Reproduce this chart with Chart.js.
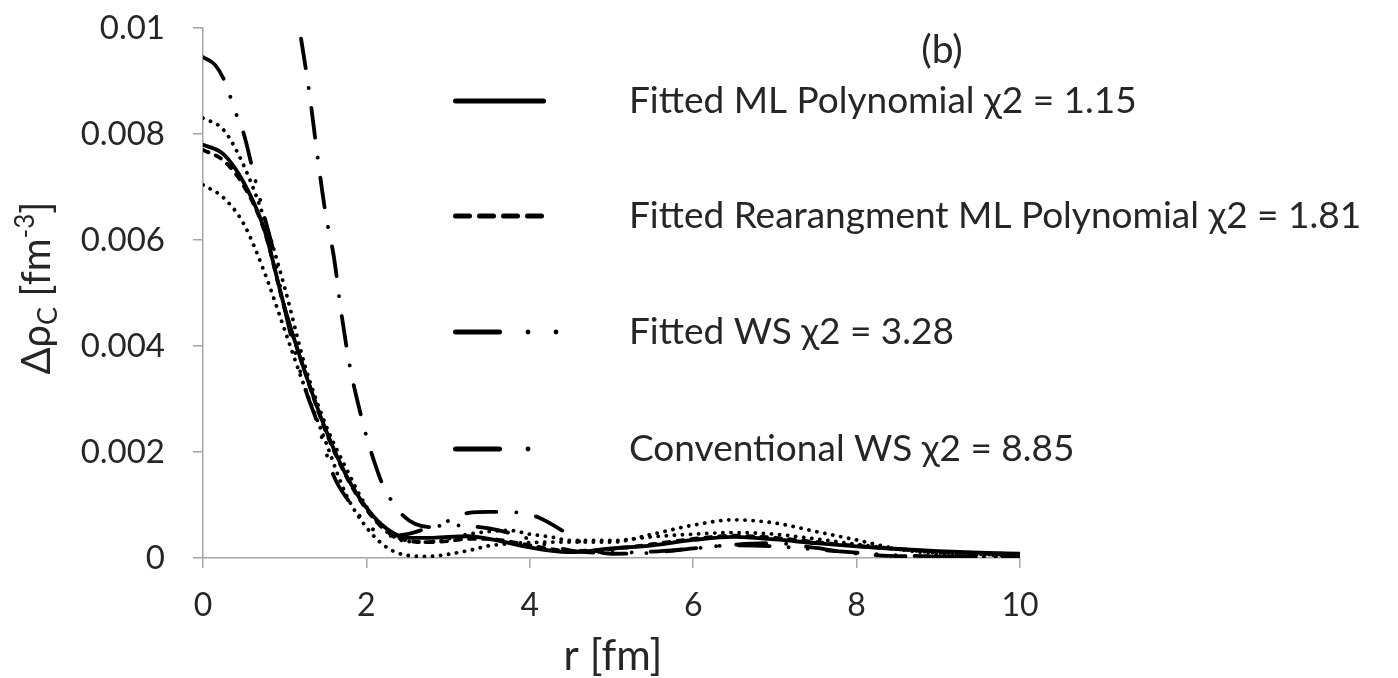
<!DOCTYPE html>
<html>
<head>
<meta charset="utf-8">
<title>Δρ_C vs r</title>
<script src="https://cdn.jsdelivr.net/npm/chart.js@4.4.1/dist/chart.umd.min.js"></script>
<style>
  html, body { margin: 0; padding: 0; background: #fff; }
  #wrap { width: 1398px; height: 678px; }
</style>
</head>
<body>
<div id="wrap"><canvas id="densityChart" width="1398" height="678"></canvas></div>
<script>
// ==== DATA ====
// common radial grid for the polynomial fits and their dotted bounds
const rGrid = [0, 0.25, 0.5, 0.75, 1, 1.25, 1.5, 1.75, 2, 2.25, 2.5, 2.75, 3, 3.25, 3.5, 3.75,
  4, 4.25, 4.5, 5, 5.5, 6, 6.5, 7, 7.5, 8, 8.5, 9, 9.5, 10];

const mlPoly = [0.0078, 0.00762, 0.00708, 0.0062, 0.00472, 0.0035, 0.00243, 0.00157, 0.00095, 0.00055,
  0.00038, 0.00038, 0.0004, 0.00041, 0.00036, 0.00028, 0.0002, 0.00014, 0.00011, 0.00018,
  0.00024, 0.00034, 0.0004, 0.00035, 0.00028, 0.00022, 0.00017, 0.00013, 0.0001, 0.00008];

const mlRearr = [0.0077, 0.0075, 0.00702, 0.00618, 0.0047, 0.0035, 0.0024, 0.00155, 0.00092, 0.0005,
  0.00033, 0.0003, 0.00032, 0.00036, 0.00036, 0.00031, 0.00024, 0.00017, 0.00013, 0.00017,
  0.00026, 0.00036, 0.00042, 0.00038, 0.0003, 0.00023, 0.00017, 0.00012, 0.00009, 0.00007];

const boundUpper = [0.0083, 0.00808, 0.0074, 0.0064, 0.0051, 0.00362, 0.00252, 0.0017, 0.00097, 0.0005,
  0.00031, 0.0003, 0.00036, 0.00045, 0.0005, 0.00052, 0.00045, 0.0004, 0.00033, 0.00033,
  0.0004, 0.00045, 0.00048, 0.00045, 0.00036, 0.00026, 0.00017, 0.0001, 0.00007, 0.00005];

const boundLower = [0.00704, 0.0068, 0.0063, 0.0054, 0.0043, 0.0032, 0.0022, 0.0012, 0.00058, 0.0002,
  0.00005, 0.00003, 0.00007, 0.00014, 0.00023, 0.00027, 0.00029, 0.0003, 0.0003, 0.0003,
  0.00045, 0.00062, 0.00072, 0.00066, 0.0005, 0.00034, 0.00017, 0.00008, 0.00006, 0.00005];

// Woods-Saxon curves
const wsFitR = [0, 0.15, 0.27, 0.4, 0.5, 0.6, 0.75, 0.86, 1, 1.25, 1.4, 1.6, 1.8, 1.96, 2.1, 2.3,
  2.5, 2.8, 3, 3.25, 3.5, 3.85, 4.2, 4.6, 5, 5.5, 6, 6.5, 7, 7.5, 8, 8.5, 9, 10];
const wsFit = [0.00945, 0.0093, 0.00898, 0.0084, 0.008, 0.00738, 0.00645, 0.0058, 0.0047, 0.0032, 0.00255,
  0.00155, 0.00104, 0.00072, 0.00052, 0.00042, 0.00045, 0.00058, 0.00062, 0.0006, 0.00056, 0.00043,
  0.00025, 0.00012, 0.0001, 0.00012, 0.00018, 0.00024, 0.00022, 0.00016, 0.0001, 0.00005, 0.00003, 0.00001];

const wsConvR = [1.2, 1.3, 1.4, 1.5, 1.6, 1.7, 1.8, 1.9, 2, 2.1, 2.2, 2.3, 2.45, 2.6, 2.8, 3, 3.25, 3.5,
  3.85, 4.1, 4.45, 4.8, 5, 5.5, 6, 6.5, 7, 7.5, 7.9, 8.4, 9, 10];
const wsConv = [0.0098, 0.0088, 0.0076, 0.0065, 0.0057, 0.00455, 0.0036, 0.0029, 0.0023, 0.0018, 0.00138,
  0.0011, 0.0008, 0.00064, 0.00058, 0.0007, 0.00085, 0.00087, 0.00086, 0.00077, 0.00047, 0.00014,
  0.00008, 0.0001, 0.00018, 0.00025, 0.00028, 0.00019, 0.0001, 0.00004, 0.00003, 0.00002];

const xTicks = [0, 2, 4, 6, 8, 10];
const yTicks = [0, 0.002, 0.004, 0.006, 0.008, 0.01];

const legendLabels = [
  "Fitted ML Polynomial χ2 = 1.15",
  "Fitted Rearangment ML Polynomial χ2 = 1.81",
  "Fitted WS χ2 = 3.28",
  "Conventional WS χ2 = 8.85"
];

const FONT = "Lato, 'Open Sans', sans-serif";
const TEXT = "#262626";
const AXIS = "#a6a6a6";

function toPoints(xs, ys) {
  return xs.map((x, i) => ({ x, y: ys[i] }));
}

function lineSet(label, xs, ys, dash) {
  return {
    label,
    data: toPoints(xs, ys),
    borderColor: "#000",
    borderWidth: 3.8,
    borderDash: dash,
    borderCapStyle: "round",
    pointRadius: 0,
    fill: false,
    cubicInterpolationMode: "monotone"
  };
}

// ==== TEXT + LEGEND ====
function drawRich(ctx, parts, x, y) {
  // parts: [text, size, baseline shift]
  let total = 0;
  parts.forEach(p => { ctx.font = p[1] + "px " + FONT; total += ctx.measureText(p[0]).width; });
  let cx = x - total / 2;
  parts.forEach(p => {
    ctx.font = p[1] + "px " + FONT;
    ctx.fillText(p[0], cx, y + p[2]);
    cx += ctx.measureText(p[0]).width;
  });
}

const annotations = {
  id: "annotations",
  afterDraw(chart) {
    const ctx = chart.ctx;
    ctx.save();
    ctx.fillStyle = TEXT;
    ctx.textBaseline = "alphabetic";

    // y axis title, rotated
    ctx.save();
    ctx.translate(36, 288);
    ctx.rotate(-Math.PI / 2);
    drawRich(ctx, [["Δρ", 40, 0], ["C", 27, 7], [" [fm", 40, 0], ["-3", 26, -16], ["]", 40, 0]], 0, 14);
    ctx.restore();

    // x axis title
    ctx.textAlign = "center";
    ctx.font = "42px " + FONT;
    ctx.fillText("r [fm]", 613, 670);

    // panel tag
    ctx.font = "39px " + FONT;
    ctx.fillText("(b)", 942, 63);

    // legend
    const rows = [101, 216, 332, 449];
    ctx.textAlign = "left";
    ctx.textBaseline = "middle";
    ctx.font = "37px " + FONT;
    legendLabels.forEach((lab, i) => {
      const y = rows[i];
      ctx.strokeStyle = "#000";
      ctx.lineWidth = 5;
      ctx.lineCap = "round";
      ctx.beginPath();
      if (i === 0) {
        ctx.setLineDash([]);
        ctx.moveTo(455.5, y); ctx.lineTo(543.5, y);
      } else if (i === 1) {
        ctx.setLineDash([14, 10]);
        ctx.moveTo(455.5, y); ctx.lineTo(543.5, y);
      } else {
        ctx.setLineDash([]);
        ctx.moveTo(455.5, y); ctx.lineTo(499.5, y);
      }
      ctx.stroke();
      ctx.setLineDash([]);
      ctx.fillStyle = "#000";
      const dots = i === 2 ? [528, 556] : i === 3 ? [528] : [];
      dots.forEach(dx => { ctx.beginPath(); ctx.arc(dx, y, 2.4, 0, Math.PI * 2); ctx.fill(); });
      ctx.fillStyle = TEXT;
      ctx.fillText(lab, 629, y);
    });
    ctx.restore();
  }
};

// ==== CHART ====
new Chart(document.getElementById("densityChart"), {
  type: "line",
  data: {
    datasets: [
      lineSet(legendLabels[0], rGrid, mlPoly, []),
      lineSet(legendLabels[1], rGrid, mlRearr, [6, 8]),
      lineSet(legendLabels[2], wsFitR, wsFit, [31, 19, 0.1, 19, 0.1, 19]),
      lineSet(legendLabels[3], wsConvR, wsConv, [30, 20, 0.1, 20]),
      lineSet("upper", rGrid, boundUpper, [0.1, 8]),
      lineSet("lower", rGrid, boundLower, [0.1, 8])
    ]
  },
  options: {
    responsive: false,
    animation: false,
    devicePixelRatio: 1,
    layout: { padding: { left: 0, top: 28, right: 378, bottom: 0 } },
    plugins: { legend: { display: false }, tooltip: { enabled: false } },
    scales: {
      x: {
        type: "linear",
        min: 0,
        max: 10,
        afterBuildTicks: s => { s.ticks = xTicks.map(v => ({ value: v })); },
        afterFit: s => { s.height = 120; s.paddingLeft = 0; s.paddingRight = 0; },
        grid: { drawOnChartArea: false, drawTicks: true, tickLength: 10, color: AXIS, lineWidth: 1.5 },
        border: { color: AXIS, width: 1.5 },
        ticks: { color: TEXT, font: { family: FONT, size: 32 }, padding: 18, maxRotation: 0 }
      },
      y: {
        min: 0,
        max: 0.01,
        afterBuildTicks: s => { s.ticks = yTicks.map(v => ({ value: v })); },
        afterFit: s => { s.width = 203; s.paddingTop = 0; s.paddingBottom = 0; },
        grid: { drawOnChartArea: false, drawTicks: true, tickLength: 10, color: AXIS, lineWidth: 1.5 },
        border: { color: AXIS, width: 1.5 },
        ticks: {
          color: TEXT,
          font: { family: FONT, size: 33 },
          padding: 28,
          callback: v => v === 0 ? "0" : String(Number(v.toFixed(3)))
        }
      }
    }
  },
  plugins: [annotations]
});
</script>
</body>
</html>
